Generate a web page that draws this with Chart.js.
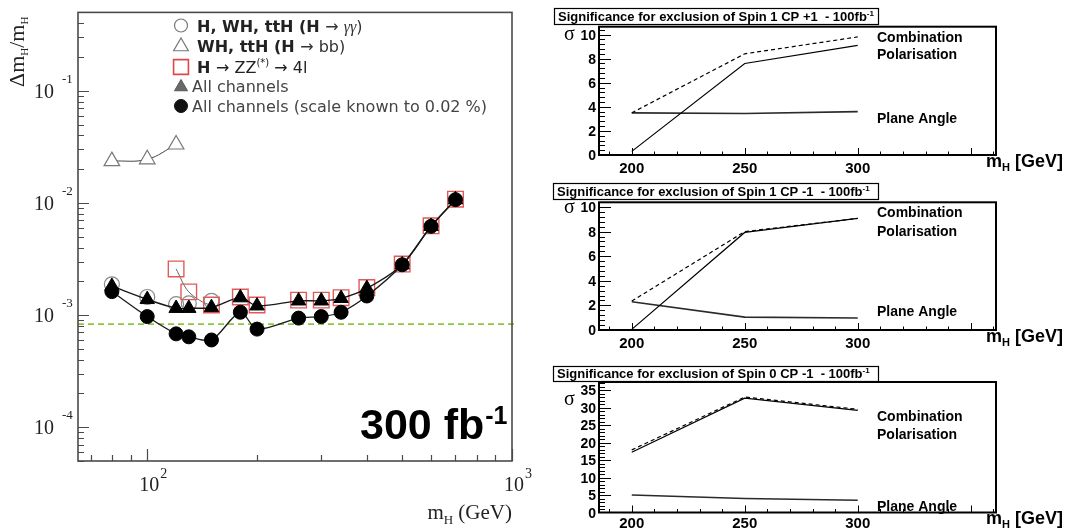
<!DOCTYPE html>
<html>
<head>
<meta charset="utf-8">
<script src="https://cdn.jsdelivr.net/npm/chart.js@4.4.1/dist/chart.umd.min.js"></script>
<style>
  html, body { margin: 0; padding: 0; background: #fff; }
  #wrap { position: relative; width: 1068px; height: 531px; overflow: hidden; background: #fff; }
  #wrap canvas { position: absolute; left: 0; top: 0; }
</style>
</head>
<body>
<div id="wrap">
  <canvas id="massChart" width="1068" height="531"></canvas>
  <canvas id="spinA" width="1068" height="531"></canvas>
  <canvas id="spinB" width="1068" height="531"></canvas>
  <canvas id="spinC" width="1068" height="531"></canvas>
</div>
<script>
// mass resolution dm/m vs m_H, 300 fb-1
const massPoints = [80, 100, 120, 130, 150, 180, 200, 260, 300, 340, 400, 500, 600, 700];
const allChannels = [1.81e-3, 1.38e-3, 1.15e-3, 1.15e-3, 1.17e-3, 1.43e-3, 1.21e-3, 1.34e-3, 1.34e-3, 1.41e-3, 1.73e-3, 2.81e-3, 6.19e-3, 1.07e-2];
const allChannelsScale = [1.62e-3, 0.97e-3, 0.68e-3, 0.64e-3, 0.60e-3, 1.06e-3, 0.75e-3, 0.94e-3, 0.97e-3, 1.06e-3, 1.48e-3, 2.81e-3, 6.19e-3, 1.07e-2];
const gamgamMass = [80, 100, 120, 130, 150];
const gamgamValues = [1.88e-3, 1.45e-3, 1.25e-3, 1.27e-3, 1.34e-3];
const bbMass = [80, 100, 120];
const bbValues = [0.0236, 0.0245, 0.0332];
const zzMass = [120, 130, 150, 180, 200, 260, 300, 340, 400, 500, 600, 700];
const zzValues = [2.58e-3, 1.61e-3, 1.23e-3, 1.45e-3, 1.23e-3, 1.36e-3, 1.36e-3, 1.43e-3, 1.76e-3, 2.85e-3, 6.25e-3, 1.08e-2];
const scaleLimit = 8.3e-4;
const massDecades = [100, 1000];
const resolutionDecades = [1e-4, 1e-3, 1e-2, 1e-1];

// spin / CP exclusion significance, 100 fb-1
const spinMass = [200, 250, 300];
const spin1PlusComb = [3.5, 8.4, 9.8];
const spin1PlusPol = [0.3, 7.6, 9.1];
const spin1PlusPlane = [3.5, 3.45, 3.6];
const spin1MinusComb = [2.35, 8.0, 9.07];
const spin1MinusPol = [0.05, 7.93, 9.07];
const spin1MinusPlane = [2.3, 1.05, 0.97];
const spin0MinusComb = [17.9, 33.0, 29.5];
const spin0MinusPol = [17.2, 32.7, 29.2];
const spin0MinusPlane = [5.0, 4.0, 3.5];
const spinMassTicks = [200, 250, 300];
const sigmaTicksLow = [0, 2, 4, 6, 8, 10];
const sigmaTicksHigh = [0, 5, 10, 15, 20, 25, 30, 35];

const SERIF = '"Liberation Serif", "Times New Roman", serif';
const SANS = '"Liberation Sans", Arial, sans-serif';
const LEG = '"DejaVu Sans", Verdana, sans-serif';

// draws a run of text pieces (for sub/superscripts)
function rich(ctx, x, y, parts, align) {
  let total = 0;
  parts.forEach(p => { ctx.font = p.font; p.w = ctx.measureText(p.t).width; total += p.w + (p.gap || 0); });
  let cx = align === 'right' ? x - total : align === 'center' ? x - total / 2 : x;
  parts.forEach(p => {
    ctx.font = p.font;
    ctx.fillStyle = p.color || '#000';
    cx += p.gap || 0;
    ctx.fillText(p.t, cx, y + (p.dy || 0));
    cx += p.w;
  });
  return total;
}

function marker(ctx, style, x, y, r, fill, stroke, lw) {
  ctx.beginPath();
  if (style === 'circle') {
    ctx.arc(x, y, r, 0, Math.PI * 2);
  } else if (style === 'triangle') {
    for (let i = 0; i < 3; i++) {
      const a = i * 2 * Math.PI / 3;
      ctx[i ? 'lineTo' : 'moveTo'](x + Math.sin(a) * r, y - Math.cos(a) * r);
    }
    ctx.closePath();
  } else {
    const s = Math.SQRT1_2 * r;
    ctx.rect(x - s, y - s, 2 * s, 2 * s);
  }
  if (fill) { ctx.fillStyle = fill; ctx.fill(); }
  if (stroke) { ctx.strokeStyle = stroke; ctx.lineWidth = lw; ctx.stroke(); }
}

const pts = (xs, ys) => xs.map((x, i) => ({ x: x, y: ys[i] }));

// ---------- left plot ----------
const massFrame = {
  id: 'massFrame',
  beforeDatasetsDraw(chart) {
    const { ctx, chartArea: a, scales: { y } } = chart;
    const py = y.getPixelForValue(scaleLimit);
    ctx.save();
    ctx.strokeStyle = '#8cc63f';
    ctx.lineWidth = 1.6;
    ctx.setLineDash([6, 4]);
    ctx.beginPath();
    ctx.moveTo(a.left, py);
    ctx.lineTo(a.right + 4, py);
    ctx.stroke();
    ctx.restore();
  },
  afterDatasetsDraw(chart) {
    const { ctx, chartArea: a, scales: { x, y } } = chart;
    ctx.save();
    ctx.strokeStyle = '#4a4a4a';
    ctx.lineWidth = 1.6;
    ctx.strokeRect(a.left, a.top, a.right - a.left, a.bottom - a.top);

    // log ticks, pointing inwards
    ctx.lineWidth = 1.2;
    ctx.beginPath();
    for (let e = -5; e <= 0; e++) {
      for (let k = 1; k <= 9; k++) {
        const v = k * Math.pow(10, e);
        if (v < y.min * 0.999 || v > y.max * 1.001) continue;
        const py = Math.round(y.getPixelForValue(v)) + 0.5;
        ctx.moveTo(a.left, py);
        ctx.lineTo(a.left + (k === 1 ? 11 : 6), py);
      }
    }
    for (let e = 1; e <= 3; e++) {
      for (let k = 1; k <= 9; k++) {
        const v = k * Math.pow(10, e);
        if (v < x.min || v > x.max * 1.001) continue;
        const px = Math.round(x.getPixelForValue(v)) + 0.5;
        ctx.moveTo(px, a.bottom);
        ctx.lineTo(px, a.bottom - (k === 1 ? 12 : 6));
      }
    }
    ctx.stroke();

    ctx.textBaseline = 'alphabetic';
    resolutionDecades.forEach(v => {
      const py = y.getPixelForValue(v);
      const exp = String(Math.round(Math.log10(v)));
      ctx.font = '20px ' + SERIF;
      ctx.fillStyle = '#222';
      ctx.textAlign = 'right';
      ctx.fillText('10', 54, py + 7);
      ctx.textAlign = 'left';
      ctx.font = '13px ' + SERIF;
      ctx.fillText(exp, 62, py - 8);
    });
    massDecades.forEach(v => {
      const px = x.getPixelForValue(v);
      const exp = String(Math.round(Math.log10(v)));
      ctx.font = '20px ' + SERIF;
      ctx.fillStyle = '#222';
      ctx.textAlign = 'center';
      ctx.fillText('10', px + 2, 491);
      ctx.textAlign = 'left';
      ctx.font = '14px ' + SERIF;
      ctx.fillText(exp, px + 13, 478);
    });

    // axis titles
    ctx.textAlign = 'left';
    rich(ctx, a.right, 519, [
      { t: 'm', font: '21px ' + SERIF, color: '#222' },
      { t: 'H', font: '13px ' + SERIF, color: '#222', dy: 5 },
      { t: ' (GeV)', font: '21px ' + SERIF, color: '#222' }
    ], 'right');
    ctx.save();
    ctx.translate(24, 87);
    ctx.rotate(-Math.PI / 2);
    rich(ctx, 0, 0, [
      { t: 'Δm', font: '22px ' + SERIF, color: '#222' },
      { t: 'H', font: '11px ' + SERIF, color: '#222', dy: 4 },
      { t: '/m', font: '22px ' + SERIF, color: '#222' },
      { t: 'H', font: '11px ' + SERIF, color: '#222', dy: 4 }
    ], 'left');
    ctx.restore();

    // legend
    const bold = 'bold 16px ' + LEG, norm = '16px ' + LEG;
    const rows = [
      { y: 25.5, m: ['circle', 6.5, null, '#777', 1.2], parts: [
        { t: 'H, WH, ttH (H ', font: bold, color: '#222' },
        { t: '→ ', font: norm, color: '#333' },
        { t: 'γγ', font: 'italic 16px ' + SERIF, color: '#333' },
        { t: ')', font: norm, color: '#333' }] },
      { y: 45.5, m: ['triangle', 8.5, null, '#777', 1.2], parts: [
        { t: 'WH, ttH (H ', font: bold, color: '#222' },
        { t: '→ bb)', font: norm, color: '#333' }] },
      { y: 67, m: ['rect', 10.5, null, '#e04848', 1.6], parts: [
        { t: 'H ', font: bold, color: '#222' },
        { t: '→ ZZ', font: norm, color: '#222' },
        { t: '(*)', font: '10px ' + LEG, color: '#222', dy: -7 },
        { t: ' → 4l', font: norm, color: '#222' }] },
      { y: 86, m: ['triangle', 7.5, '#6a6a6a', '#555', 1], parts: [
        { t: 'All channels', font: norm, color: '#444' }] },
      { y: 106, m: ['circle', 6.5, '#111', '#111', 1], parts: [
        { t: 'All channels (scale known to 0.02 %)', font: norm, color: '#444' }] }
    ];
    rows.forEach((r, i) => {
      marker(ctx, r.m[0], 181, r.y + (r.m[0] === 'triangle' ? 1 : 0), r.m[1], r.m[2], r.m[3], r.m[4]);
      rich(ctx, i >= 3 ? 192 : 197, r.y + 6, r.parts, 'left');
    });

    // luminosity tag
    rich(ctx, 360, 439, [
      { t: '300 fb', font: 'bold 43px ' + SANS, color: '#000' },
      { t: '-1', font: 'bold 25px ' + SANS, color: '#000', dy: -15, gap: 1 }
    ], 'left');
    ctx.restore();
  }
};

new Chart(document.getElementById('massChart'), {
  type: 'scatter',
  data: {
    datasets: [
      {
        label: 'All channels (scale known to 0.02 %)',
        data: pts(massPoints, allChannelsScale),
        showLine: true, tension: 0.3, borderColor: '#1a1a1a', borderWidth: 1.3,
        pointStyle: 'circle', pointRadius: 7, pointBackgroundColor: '#000', pointBorderColor: '#000', pointBorderWidth: 1
      },
      {
        label: 'All channels',
        data: pts(massPoints, allChannels),
        showLine: true, tension: 0.3, borderColor: '#1a1a1a', borderWidth: 1.4,
        pointStyle: 'triangle', pointRadius: 8.3, pointBackgroundColor: '#000', pointBorderColor: '#000', pointBorderWidth: 1
      },
      {
        label: 'H → ZZ(*) → 4l',
        data: pts(zzMass, zzValues),
        showLine: true, tension: 0.3, borderColor: '#666', borderWidth: 1,
        segment: { borderColor: c => (c.p0.parsed.x < 150 ? '#666' : 'rgba(0,0,0,0)') },
        pointStyle: 'rect', pointRadius: 11, pointBackgroundColor: 'rgba(0,0,0,0)', pointBorderColor: '#e05a5a', pointBorderWidth: 1.4
      },
      {
        label: 'H, WH, ttH (H → γγ)',
        data: pts(gamgamMass, gamgamValues),
        showLine: false,
        pointStyle: 'circle', pointRadius: 7.5, pointBackgroundColor: 'rgba(0,0,0,0)', pointBorderColor: '#8a8a8a', pointBorderWidth: 1.2
      },
      {
        label: 'WH, ttH (H → bb)',
        data: pts(bbMass, bbValues),
        showLine: true, tension: 0.4, borderColor: '#444', borderWidth: 1,
        pointStyle: 'triangle', pointRadius: 9, pointBackgroundColor: '#fff', pointBorderColor: '#777', pointBorderWidth: 1.2
      }
    ]
  },
  options: {
    responsive: false, animation: false, events: [],
    layout: { padding: { left: 78, top: 6, right: 1068 - 512, bottom: 531 - 461 } },
    plugins: { legend: { display: false }, tooltip: { enabled: false } },
    scales: {
      x: { type: 'logarithmic', min: 64.6, max: 1000, display: false },
      y: { type: 'logarithmic', min: 5e-5, max: 0.5, display: false }
    }
  },
  plugins: [massFrame]
});

// ---------- spin panels ----------
const rootFrame = {
  id: 'rootFrame',
  afterDatasetsDraw(chart, args, o) {
    const { ctx, chartArea: a, scales: { x, y } } = chart;
    ctx.save();
    ctx.strokeStyle = '#000';
    ctx.lineWidth = 2;
    ctx.strokeRect(a.left, a.top, a.right - a.left, a.bottom - a.top);

    ctx.lineWidth = 1;
    ctx.beginPath();
    const nx = Math.floor((x.max - 180) / 10);
    for (let i = 0; i <= nx; i++) {
      const v = 180 + i * 10;
      if (v <= x.min) continue;
      const px = Math.round(x.getPixelForValue(v)) + 0.5;
      ctx.moveTo(px, a.bottom);
      ctx.lineTo(px, a.bottom - (v % 50 === 0 ? 7 : 3.5));
    }
    const ny = Math.floor(y.max / o.yMinor + 1e-6);
    const per = Math.round(o.yMajor / o.yMinor);
    for (let i = 1; i <= ny; i++) {
      const py = Math.round(y.getPixelForValue(i * o.yMinor)) + 0.5;
      ctx.moveTo(a.left, py);
      ctx.lineTo(a.left + (i % per === 0 ? 12 : 6), py);
    }
    ctx.stroke();

    ctx.fillStyle = '#000';
    ctx.font = 'bold 15px ' + SANS;
    ctx.textAlign = 'center';
    spinMassTicks.forEach(v => ctx.fillText(String(v), x.getPixelForValue(v), a.bottom + o.xLabelDy));
    ctx.textAlign = 'right';
    ctx.font = 'bold 14px ' + SANS;
    o.yTicks.forEach(v => ctx.fillText(String(v), a.left - 3, y.getPixelForValue(v) + 5));

    ctx.textAlign = 'left';
    ctx.font = '20px ' + SERIF;
    ctx.fillText('σ', 564, o.sigmaY + 4);

    // title box
    ctx.fillStyle = '#fff';
    ctx.fillRect(o.box[0], o.box[1], o.box[2] - o.box[0], o.box[3] - o.box[1]);
    ctx.lineWidth = 1.2;
    ctx.strokeRect(o.box[0] + 0.5, o.box[1] + 0.5, o.box[2] - o.box[0], o.box[3] - o.box[1]);
    rich(ctx, o.box[0] + 4, (o.box[1] + o.box[3]) / 2 + 4.5, [
      { t: o.title, font: 'bold 13px ' + SANS },
      { t: '-1', font: 'bold 8px ' + SANS, dy: -5 }
    ], 'left');

    ctx.font = 'bold 14px ' + SANS;
    ctx.fillStyle = '#000';
    ctx.fillText('Combination', 877, o.labels[0] + 5);
    ctx.fillText('Polarisation', 877, o.labels[1] + 5);
    ctx.fillText('Plane Angle', 877, o.labels[2] + 5);

    rich(ctx, 1063, a.bottom + o.titleDy, [
      { t: 'm', font: 'bold 18px ' + SANS },
      { t: 'H', font: 'bold 11px ' + SANS, dy: 4 },
      { t: ' [GeV]', font: 'bold 18px ' + SANS }
    ], 'right');
    ctx.restore();
  }
};

const spinPanels = [
  { id: 'spinA', title: 'Significance for exclusion of Spin 1 CP +1  - 100fb',
    comb: spin1PlusComb, pol: spin1PlusPol, plane: spin1PlusPlane,
    top: 26.7, bottom: 155, yMax: 10.65, yMajor: 2, yMinor: 0.4, yTicks: sigmaTicksLow,
    box: [554, 8, 878, 24], sigmaY: 36, labels: [37, 54, 118], xLabelDy: 18, titleDy: 12 },
  { id: 'spinB', title: 'Significance for exclusion of Spin 1 CP -1  - 100fb',
    comb: spin1MinusComb, pol: spin1MinusPol, plane: spin1MinusPlane,
    top: 202.3, bottom: 330, yMax: 10.38, yMajor: 2, yMinor: 0.4, yTicks: sigmaTicksLow,
    box: [553, 183, 878, 199], sigmaY: 209, labels: [212, 230.5, 311], xLabelDy: 18, titleDy: 12 },
  { id: 'spinC', title: 'Significance for exclusion of Spin 0 CP -1  - 100fb',
    comb: spin0MinusComb, pol: spin0MinusPol, plane: spin0MinusPlane,
    top: 382, bottom: 512.5, yMax: 37.3, yMajor: 5, yMinor: 1, yTicks: sigmaTicksHigh,
    box: [553, 366, 878, 381], sigmaY: 401, labels: [415.5, 434, 506], xLabelDy: 15.5, titleDy: 11 }
];

spinPanels.forEach(p => {
  new Chart(document.getElementById(p.id), {
    type: 'scatter',
    data: {
      datasets: [
        { label: 'Combination', data: pts(spinMass, p.comb), showLine: true, borderColor: '#000',
          borderWidth: 1.2, borderDash: [4, 3], pointRadius: 0 },
        { label: 'Polarisation', data: pts(spinMass, p.pol), showLine: true, borderColor: '#000',
          borderWidth: 1.2, pointRadius: 0 },
        { label: 'Plane Angle', data: pts(spinMass, p.plane), showLine: true, borderColor: '#2a2a2a',
          borderWidth: 1.6, pointRadius: 0 }
      ]
    },
    options: {
      responsive: false, animation: false, events: [],
      layout: { padding: { left: 599, top: p.top, right: 1068 - 996, bottom: 531 - p.bottom } },
      plugins: {
        legend: { display: false }, tooltip: { enabled: false },
        rootFrame: { yMajor: p.yMajor, yMinor: p.yMinor, yTicks: p.yTicks, box: p.box, title: p.title,
          sigmaY: p.sigmaY, labels: p.labels, xLabelDy: p.xLabelDy, titleDy: p.titleDy }
      },
      scales: {
        x: { type: 'linear', min: 185.5, max: 361.2, display: false },
        y: { type: 'linear', min: 0, max: p.yMax, display: false }
      }
    },
    plugins: [rootFrame]
  });
});
</script>
</body>
</html>
